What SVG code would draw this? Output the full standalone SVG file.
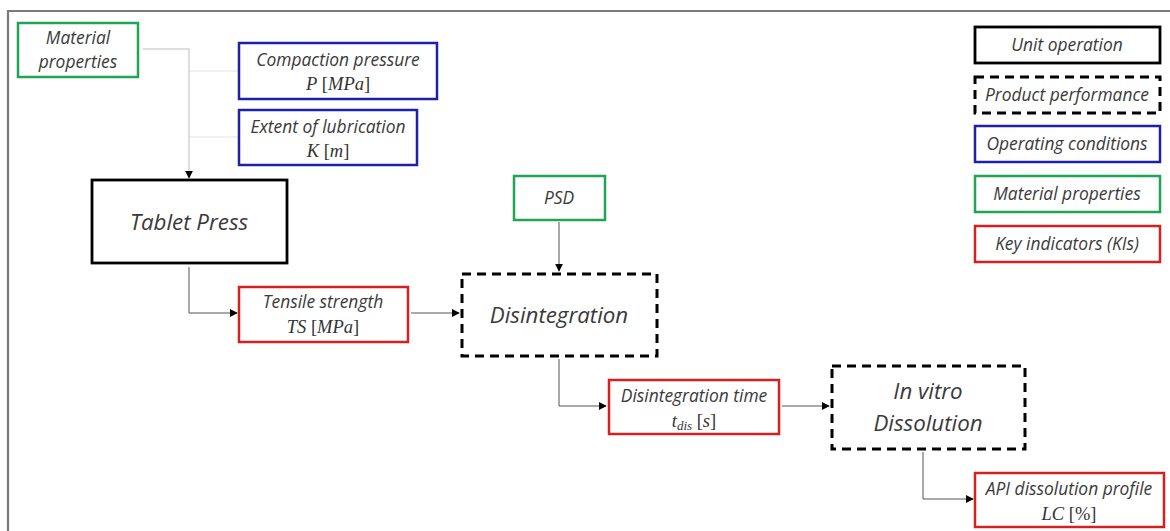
<svg xmlns="http://www.w3.org/2000/svg" width="1170" height="531" viewBox="0 0 1170 531">
  <defs>
    <marker id="arr" viewBox="0 0 10 10" refX="9" refY="5" markerWidth="8" markerHeight="8" markerUnits="userSpaceOnUse" orient="auto">
      <path d="M0,0 L10,5 L0,10 z" fill="#000"/>
    </marker>
    <style>
      .lbl { font-family: "Open Sans", Lato, sans-serif; font-style: italic; fill: #3a3a3a; text-anchor: middle; }
      .s { font-size: 17.4px; }
      .l { font-size: 22.3px; }
      .math { font-family: "Liberation Serif", serif; font-size: 18.5px; fill: #333; text-anchor: middle; }
      .math .v { font-style: italic; }
      .unit { fill: #fff; stroke: #000; stroke-width: 2.8; }
      .perf { fill: #fff; stroke: #000; stroke-width: 3; stroke-dasharray: 9 6; }
      .op { fill: #fff; stroke: #1f1fa8; stroke-width: 2.5; }
      .mat { fill: #fff; stroke: #22a455; stroke-width: 2.5; }
      .ki { fill: #fff; stroke: #d42020; stroke-width: 2.5; }
      .conn { fill: none; stroke: #555; stroke-width: 1; }
      .faint { fill: none; stroke: #e4e4e4; stroke-width: 1; }
    </style>
  </defs>

  <rect width="1170" height="531" fill="#fff"/>
  <!-- outer frame -->
  <path d="M8 531 V11 H1170" fill="none" stroke="#7a7a7a" stroke-width="2.2"/>

  <!-- connectors -->
  <g id="connectors">
    <path class="faint" d="M189 71 H238"/>
    <path class="faint" d="M189 137 H238"/>
    <path d="M143 49 H189 V178" fill="none" stroke="#bdbdbd" stroke-width="1" marker-end="url(#arr)"/>
    <path class="conn" d="M189 267 V313 H237" marker-end="url(#arr)"/>
    <path class="conn" d="M411 313 H459" marker-end="url(#arr)"/>
    <path class="conn" d="M559 222 V271" marker-end="url(#arr)"/>
    <path class="conn" d="M559 359 V406 H606" marker-end="url(#arr)"/>
    <path class="conn" d="M782 406 H829" marker-end="url(#arr)"/>
    <path class="conn" d="M923 452 V499 H973" marker-end="url(#arr)"/>
  </g>

  <g id="material-properties">
    <rect class="mat" x="18" y="23" width="120" height="54"/>
    <text class="lbl s" x="78" y="44">Material</text>
    <text class="lbl s" x="78" y="68">properties</text>
  </g>

  <g id="compaction-pressure">
    <rect class="op" x="239" y="43" width="198" height="56"/>
    <text class="lbl s" x="338" y="66">Compaction pressure</text>
    <text class="math" x="338" y="90"><tspan class="v">P</tspan> [<tspan class="v">MPa</tspan>]</text>
  </g>

  <g id="extent-of-lubrication">
    <rect class="op" x="239" y="110" width="178" height="55"/>
    <text class="lbl s" x="328" y="133">Extent of lubrication</text>
    <text class="math" x="328" y="157"><tspan class="v">K</tspan> [<tspan class="v">m</tspan>]</text>
  </g>

  <g id="tablet-press">
    <rect class="unit" x="92" y="180" width="195" height="83"/>
    <text class="lbl l" x="189" y="230">Tablet Press</text>
  </g>

  <g id="tensile-strength">
    <rect class="ki" x="239" y="287" width="169" height="55"/>
    <text class="lbl s" x="323" y="308">Tensile strength</text>
    <text class="math" x="323" y="333"><tspan class="v">TS</tspan> [<tspan class="v">MPa</tspan>]</text>
  </g>

  <g id="psd">
    <rect class="mat" x="514" y="176" width="91" height="44"/>
    <text class="lbl s" x="559" y="204">PSD</text>
  </g>

  <g id="disintegration">
    <rect class="perf" x="462" y="274" width="195" height="82"/>
    <text class="lbl l" x="559" y="323">Disintegration</text>
  </g>

  <g id="disintegration-time">
    <rect class="ki" x="609" y="380" width="170" height="54"/>
    <text class="lbl s" x="694" y="402">Disintegration time</text>
    <text class="math" x="694" y="427"><tspan class="v">t</tspan><tspan class="v" font-size="13" dy="3">dis</tspan><tspan dy="-3"> [</tspan><tspan class="v">s</tspan>]</text>
  </g>

  <g id="in-vitro-dissolution">
    <rect class="perf" x="832" y="366" width="193" height="83"/>
    <text class="lbl l" x="928" y="399">In vitro</text>
    <text class="lbl l" x="928" y="431">Dissolution</text>
  </g>

  <g id="api-dissolution-profile">
    <rect class="ki" x="975" y="473" width="189" height="54"/>
    <text class="lbl s" x="1069" y="495">API dissolution profile</text>
    <text class="math" x="1069" y="520"><tspan class="v">LC</tspan> [%]</text>
  </g>

  <!-- legend -->
  <g id="legend-unit-operation">
    <rect class="unit" x="975" y="27" width="185" height="36"/>
    <text class="lbl s" x="1067" y="51">Unit operation</text>
  </g>
  <g id="legend-product-performance">
    <rect class="perf" x="975" y="77" width="185" height="36"/>
    <text class="lbl s" x="1067" y="101">Product performance</text>
  </g>
  <g id="legend-operating-conditions">
    <rect class="op" x="975" y="126" width="185" height="36"/>
    <text class="lbl s" x="1067" y="150">Operating conditions</text>
  </g>
  <g id="legend-material-properties">
    <rect class="mat" x="975" y="176" width="185" height="36"/>
    <text class="lbl s" x="1067" y="200">Material properties</text>
  </g>
  <g id="legend-key-indicators">
    <rect class="ki" x="975" y="226" width="185" height="36"/>
    <text class="lbl s" x="1067" y="250">Key indicators (KIs)</text>
  </g>
</svg>
